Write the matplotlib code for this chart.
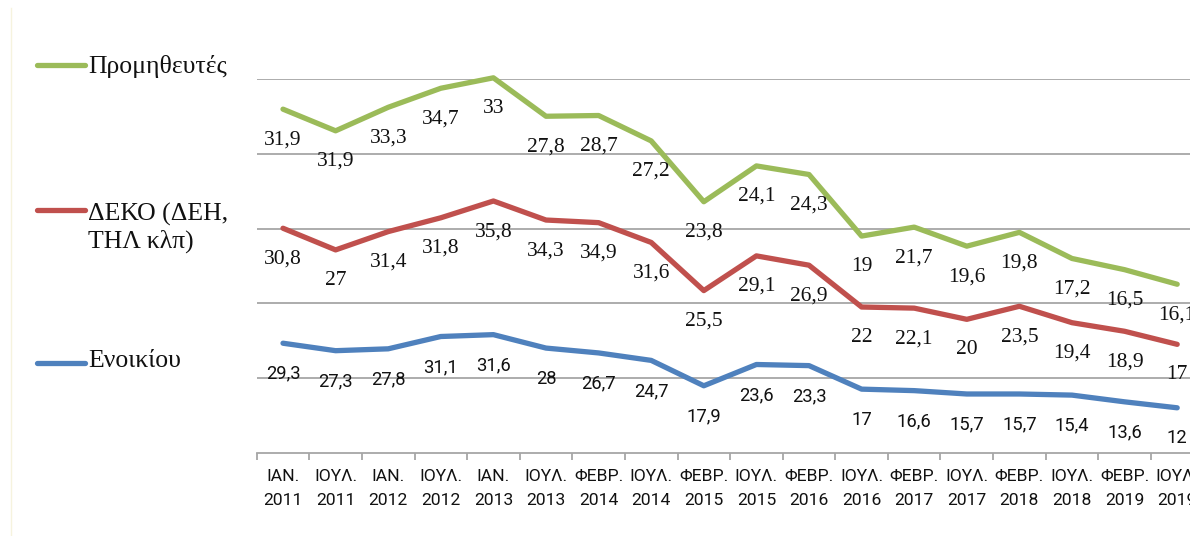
import matplotlib
matplotlib.use("Agg")
import matplotlib.pyplot as plt
from matplotlib.lines import Line2D
import numpy as np

categories = ["ΙΑΝ.\n2011", "ΙΟΥΛ.\n2011", "ΙΑΝ.\n2012", "ΙΟΥΛ.\n2012", "ΙΑΝ.\n2013",
              "ΙΟΥΛ.\n2013", "ΦΕΒΡ.\n2014", "ΙΟΥΛ.\n2014", "ΦΕΒΡ.\n2015", "ΙΟΥΛ.\n2015",
              "ΦΕΒΡ.\n2016", "ΙΟΥΛ.\n2016", "ΦΕΒΡ.\n2017", "ΙΟΥΛ.\n2017", "ΦΕΒΡ.\n2018",
              "ΙΟΥΛ.\n2018", "ΦΕΒΡ.\n2019", "ΙΟΥΛ.\n2019"]

enoikiou = [29.3, 27.3, 27.8, 31.1, 31.6, 28, 26.7, 24.7, 17.9, 23.6, 23.3, 17, 16.6,
            15.7, 15.7, 15.4, 13.6, 12]
deko = [30.8, 27, 31.4, 31.8, 35.8, 34.3, 34.9, 31.6, 25.5, 29.1, 26.9, 22, 22.1, 20,
        23.5, 19.4, 18.9, 17]
promitheftes = [31.9, 31.9, 33.3, 34.7, 33, 27.8, 28.7, 27.2, 23.8, 24.1, 24.3, 19, 21.7,
                19.6, 19.8, 17.2, 16.5, 16.1]

series_names = ["Ενοικίου", "ΔΕΚΟ (ΔΕΗ,\nΤΗΛ κλπ)", "Προμηθευτές"]
colors = ["#4F81BD", "#C0504D", "#9BBB59"]

SERIF = ["Liberation Serif", "DejaVu Serif"]
SANS = ["Roboto", "DejaVu Sans"]

W, H = 1190, 536
fig = plt.figure(figsize=(W / 100, H / 100), dpi=100)
fig.patch.set_facecolor("white")

left_px, right_px = 256.7, 256.7 + 18 * 52.6
top_px, bot_px = 79.3, 452.6
ax = fig.add_axes([left_px / W, 1 - bot_px / H, (right_px - left_px) / W, (bot_px - top_px) / H])

x = np.arange(len(categories))
stack = [np.array(enoikiou), np.array(deko), np.array(promitheftes)]
cum = np.cumsum(stack, axis=0)
label_fonts = [SANS, SERIF, SERIF]
label_sizes = [13.2, 15.5, 15.5]

for i in range(3):
    ax.plot(x, cum[i], color=colors[i], lw=3.8, solid_joinstyle="round",
            solid_capstyle="round", clip_on=False, zorder=3)
    for xi, yi, v in zip(x, cum[i], stack[i]):
        ax.annotate(f"{v:g}".replace(".", ","), (xi, yi), xytext=(0, -22),
                    textcoords="offset points", ha="center", va="center",
                    fontsize=label_sizes[i], family=label_fonts[i], color="#111111",
                    annotation_clip=False, zorder=4)

ax.set_xlim(-0.5, len(categories) - 0.5)
ax.set_ylim(0, 100)
ax.set_yticks([20, 40, 60, 80, 100])
ax.yaxis.grid(True, color="#A6A6A6", lw=1.3)
ax.set_axisbelow(True)
ax.tick_params(axis="y", length=0, labelleft=False)

ax.set_xticks(x)
ax.set_xticklabels(categories, family=SANS, fontsize=12.6, color="#111111", linespacing=1.7)
ax.set_xticks(np.arange(len(categories) + 1) - 0.5, minor=True)
ax.tick_params(axis="x", which="major", length=0, pad=12)
ax.tick_params(axis="x", which="minor", length=5, width=1.3, color="#A6A6A6", direction="out")

for s in ["top", "right", "left"]:
    ax.spines[s].set_visible(False)
ax.spines["bottom"].set_color("#A6A6A6")
ax.spines["bottom"].set_linewidth(1.3)

# legend on the left
leg_y = [363, 210, 65]
text_y = [361, 228, 67]
for i in range(3):
    fig.add_artist(Line2D([37 / W, 85 / W], [1 - leg_y[i] / H] * 2, color=colors[i], lw=3.8,
                          solid_capstyle="round"))
    fig.text(88 / W, 1 - text_y[i] / H, series_names[i], family=SERIF, fontsize=18.5,
             color="#111111", ha="left", va="center", linespacing=1.2)

# faint frame line at left
fig.add_artist(Line2D([11 / W, 11 / W], [0, 1 - 8 / H], color="#F6F3DE", lw=1))

fig.savefig("out.png", dpi=100)
